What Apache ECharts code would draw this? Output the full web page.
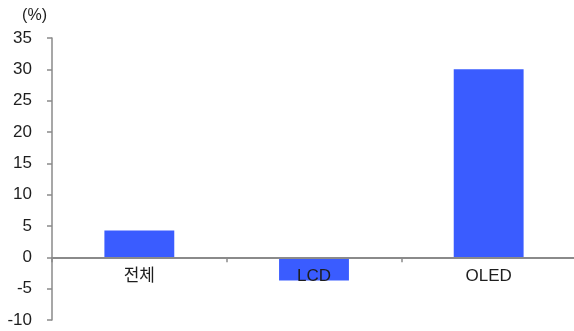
<!DOCTYPE html>
<html>
<head>
<meta charset="utf-8">
<script src="https://cdn.jsdelivr.net/npm/echarts@6/dist/echarts.min.js"></script>
<style>
html, body { margin: 0; padding: 0; background: #fff; }
#chart { width: 574px; height: 331px; }
</style>
</head>
<body>
<div id="chart"></div>
<script>
// 카테고리별 증감률 (%)
const categories = ['전체', 'LCD', 'OLED']
const values = [4.3, -3.7, 30.0]
const yMin = -10
const yMax = 35
const yStep = 5
const unitLabel = '(%)'

const font = '"Liberation Sans", Arial, "Noto Sans CJK KR", sans-serif'
const axisGray = '#8a8a8a'
const gridTop = 38
const gridHeight = 282
// x축을 0 위치로 올림 (라벨도 같이 이동하도록 offset 사용)
const zeroOffset = gridHeight * (0 - yMin) / (yMax - yMin)

const myChart = echarts.init(document.getElementById('chart'))
myChart.setOption({
  animation: false,
  grid: {
    left: 52,
    top: gridTop,
    width: 524,
    height: gridHeight,
    outerBoundsMode: 'none',
    containLabel: false
  },
  xAxis: {
    type: 'category',
    data: categories,
    position: 'bottom',
    offset: -zeroOffset,
    z: 5,
    axisLine: { onZero: false, lineStyle: { color: axisGray, width: 2 } },
    axisTick: { show: true, alignWithLabel: false, length: 5, lineStyle: { color: axisGray, width: 1.5 } },
    axisLabel: { color: '#1e1e1e', fontSize: 17, fontFamily: font, margin: 10 }
  },
  yAxis: {
    type: 'value',
    min: yMin,
    max: yMax,
    interval: yStep,
    name: unitLabel,
    nameLocation: 'end',
    nameGap: 14,
    nameTextStyle: { color: '#1e1e1e', fontSize: 16, fontFamily: font, align: 'right', padding: [0, 5, 0, 0] },
    axisLine: { show: true, lineStyle: { color: axisGray, width: 1.5 } },
    axisTick: { show: true, length: 5, lineStyle: { color: axisGray, width: 1.5 } },
    axisLabel: { color: '#1e1e1e', fontSize: 17, fontFamily: font, margin: 20 },
    splitLine: { show: false }
  },
  series: [{
    type: 'bar',
    data: values,
    barWidth: '40%',
    itemStyle: { color: '#3a5cff' }
  }]
})
</script>
</body>
</html>
